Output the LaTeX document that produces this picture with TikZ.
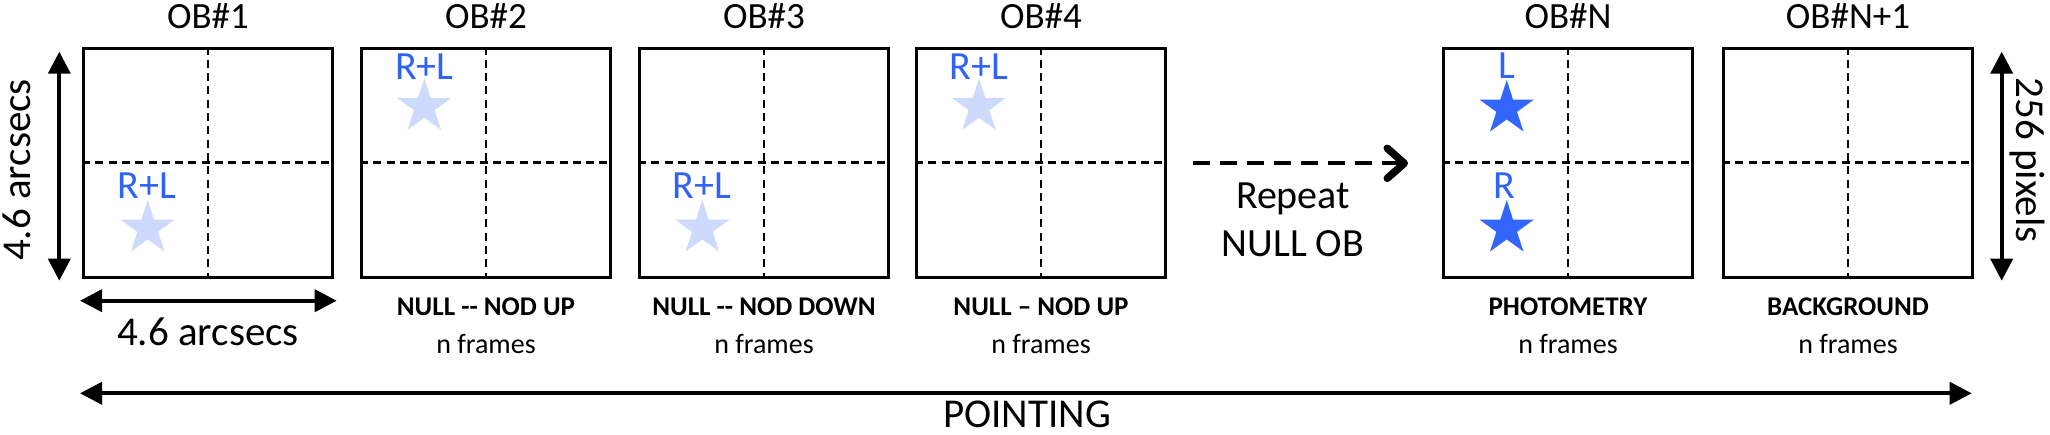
\documentclass[tikz,border=0pt]{standalone}
\usepackage{fontspec}
\setmainfont{Carlito}
\usetikzlibrary{arrows.meta,shapes.geometric}
\definecolor{txtblue}{RGB}{47,98,245}
\definecolor{starblue}{RGB}{51,102,255}
\definecolor{starlight}{RGB}{205,218,252}
\begin{document}
\begin{tikzpicture}[x=1pt,y=-1pt,
  framebox/.style={draw, line width=3pt, minimum width=249pt, minimum height=229pt, inner sep=0pt},
  grid/.style={line width=2.8pt, dash pattern=on 8pt off 5.3pt},
  dim/.style={line width=3.8pt, {Triangle[length=22pt,width=22pt]}-{Triangle[length=22pt,width=22pt]}},
  repeatarrow/.style={line width=4.2pt, dash pattern=on 17pt off 10pt, -{Straight Barb[length=17pt,width=30pt,line width=7.5pt,round]}},
  title/.style={font=\fontsize{37}{44}\selectfont, anchor=base, inner sep=0pt},
  rl/.style={font=\fontsize{40}{48}\selectfont, text=txtblue, anchor=base, inner sep=0pt},
  lbl/.style={font=\bfseries\fontsize{27}{32}\selectfont, anchor=base, inner sep=0pt},
  nfr/.style={font=\fontsize{28}{34}\selectfont, anchor=base, inner sep=0pt},
  big/.style={font=\fontsize{41}{49}\selectfont, inner sep=0pt},
  lstar/.style={star, star points=5, star point ratio=2.618, minimum size=57pt, inner sep=0pt, fill=starlight, draw=none},
  dstar/.style={star, star points=5, star point ratio=2.618, minimum size=57pt, inner sep=0pt, fill=starblue, draw=none}
]
\useasboundingbox (0,0) rectangle (2050,434);

% boxes
\node[framebox] (b1) at (208,162.5) {};
\node[framebox] (b2) at (486,162.5) {};
\node[framebox] (b3) at (764,162.5) {};
\node[framebox] (b4) at (1041,162.5) {};
\node[framebox] (bN) at (1568,162.5) {};
\node[framebox] (bM) at (1848,162.5) {};
\foreach \b in {b1,b2,b3,b4,bN,bM}{
  \draw[grid] (\b.north) -- (\b.south);
  \draw[grid] (\b.west) -- (\b.east);
}

% titles
\node[title] (t1) at (208,28) {OB\#1};
\node[title] (t2) at (486,28) {OB\#2};
\node[title] (t3) at (764,28) {OB\#3};
\node[title] (t4) at (1041,28) {OB\#4};
\node[title] (tN) at (1568,28) {OB\#N};
\node[title] (tM) at (1848,28) {OB\#N+1};

% stars and labels
\node[lstar] (s1) at (147.7,228.5) {};
\node[rl] (r1) at (146.7,198.3) {R+L};
\node[lstar] (s2) at (424.3,106.8) {};
\node[rl] (r2) at (424.3,79.3) {R+L};
\node[lstar] (s3) at (702.3,228.5) {};
\node[rl] (r3) at (701.7,198.3) {R+L};
\node[lstar] (s4) at (979,106.8) {};
\node[rl] (r4) at (979,79.3) {R+L};
\node[dstar] (sL) at (1506.7,108.5) {};
\node[rl] (rL) at (1507,78.3) {L};
\node[dstar] (sR) at (1506.7,228.5) {};
\node[rl] (rR) at (1504,198.3) {R};

% bottom labels
\node[lbl] (l2) at (486,315) {NULL -{}- NOD UP};
\node[nfr] (n2) at (486,353) {n frames};
\node[lbl] (l3) at (764,315) {NULL -{}- NOD DOWN};
\node[nfr] (n3) at (764,353) {n frames};
\node[lbl] (l4) at (1041,315) {NULL -- NOD UP};
\node[nfr] (n4) at (1041,353) {n frames};
\node[lbl] (lN) at (1568,315) {PHOTOMETRY};
\node[nfr] (nN) at (1568,353) {n frames};
\node[lbl] (lM) at (1848,315) {BACKGROUND};
\node[nfr] (nM) at (1848,353) {n frames};

% dimension arrows
\coordinate (vl1) at (59.3,51.7);
\coordinate (vl2) at (59.3,280.7);
\draw[dim] (vl1) -- (vl2);
\node[big, rotate=90] (vlt) at (17,170) {4.6 arcsecs};

\coordinate (hl1) at (80,300.7);
\coordinate (hl2) at (336.7,300.7);
\draw[dim] (hl1) -- (hl2);
\node[big, anchor=base] (hlt) at (208,345) {4.6 arcsecs};

\coordinate (vr1) at (2001.7,51.7);
\coordinate (vr2) at (2001.7,280.7);
\draw[dim] (vr1) -- (vr2);
\node[big, rotate=-90] (vrt) at (2027,160) {256 pixels};

\coordinate (p1) at (80,393.3);
\coordinate (p2) at (1971.7,393.3);
\draw[dim] (p1) -- (p2);
\node[big, anchor=base] (pt) at (1027,427) {POINTING};

% repeat arrow
\coordinate (ra) at (1193,163.3);
\coordinate (rb) at (1408,163.3);
\draw[repeatarrow] (ra) -- (rb);
\node[big, anchor=base, font=\fontsize{40}{48}\selectfont] (rep1) at (1293,208.3) {Repeat};
\node[big, anchor=base, font=\fontsize{40}{48}\selectfont] (rep2) at (1293,256.7) {NULL OB};
\end{tikzpicture}
\end{document}
